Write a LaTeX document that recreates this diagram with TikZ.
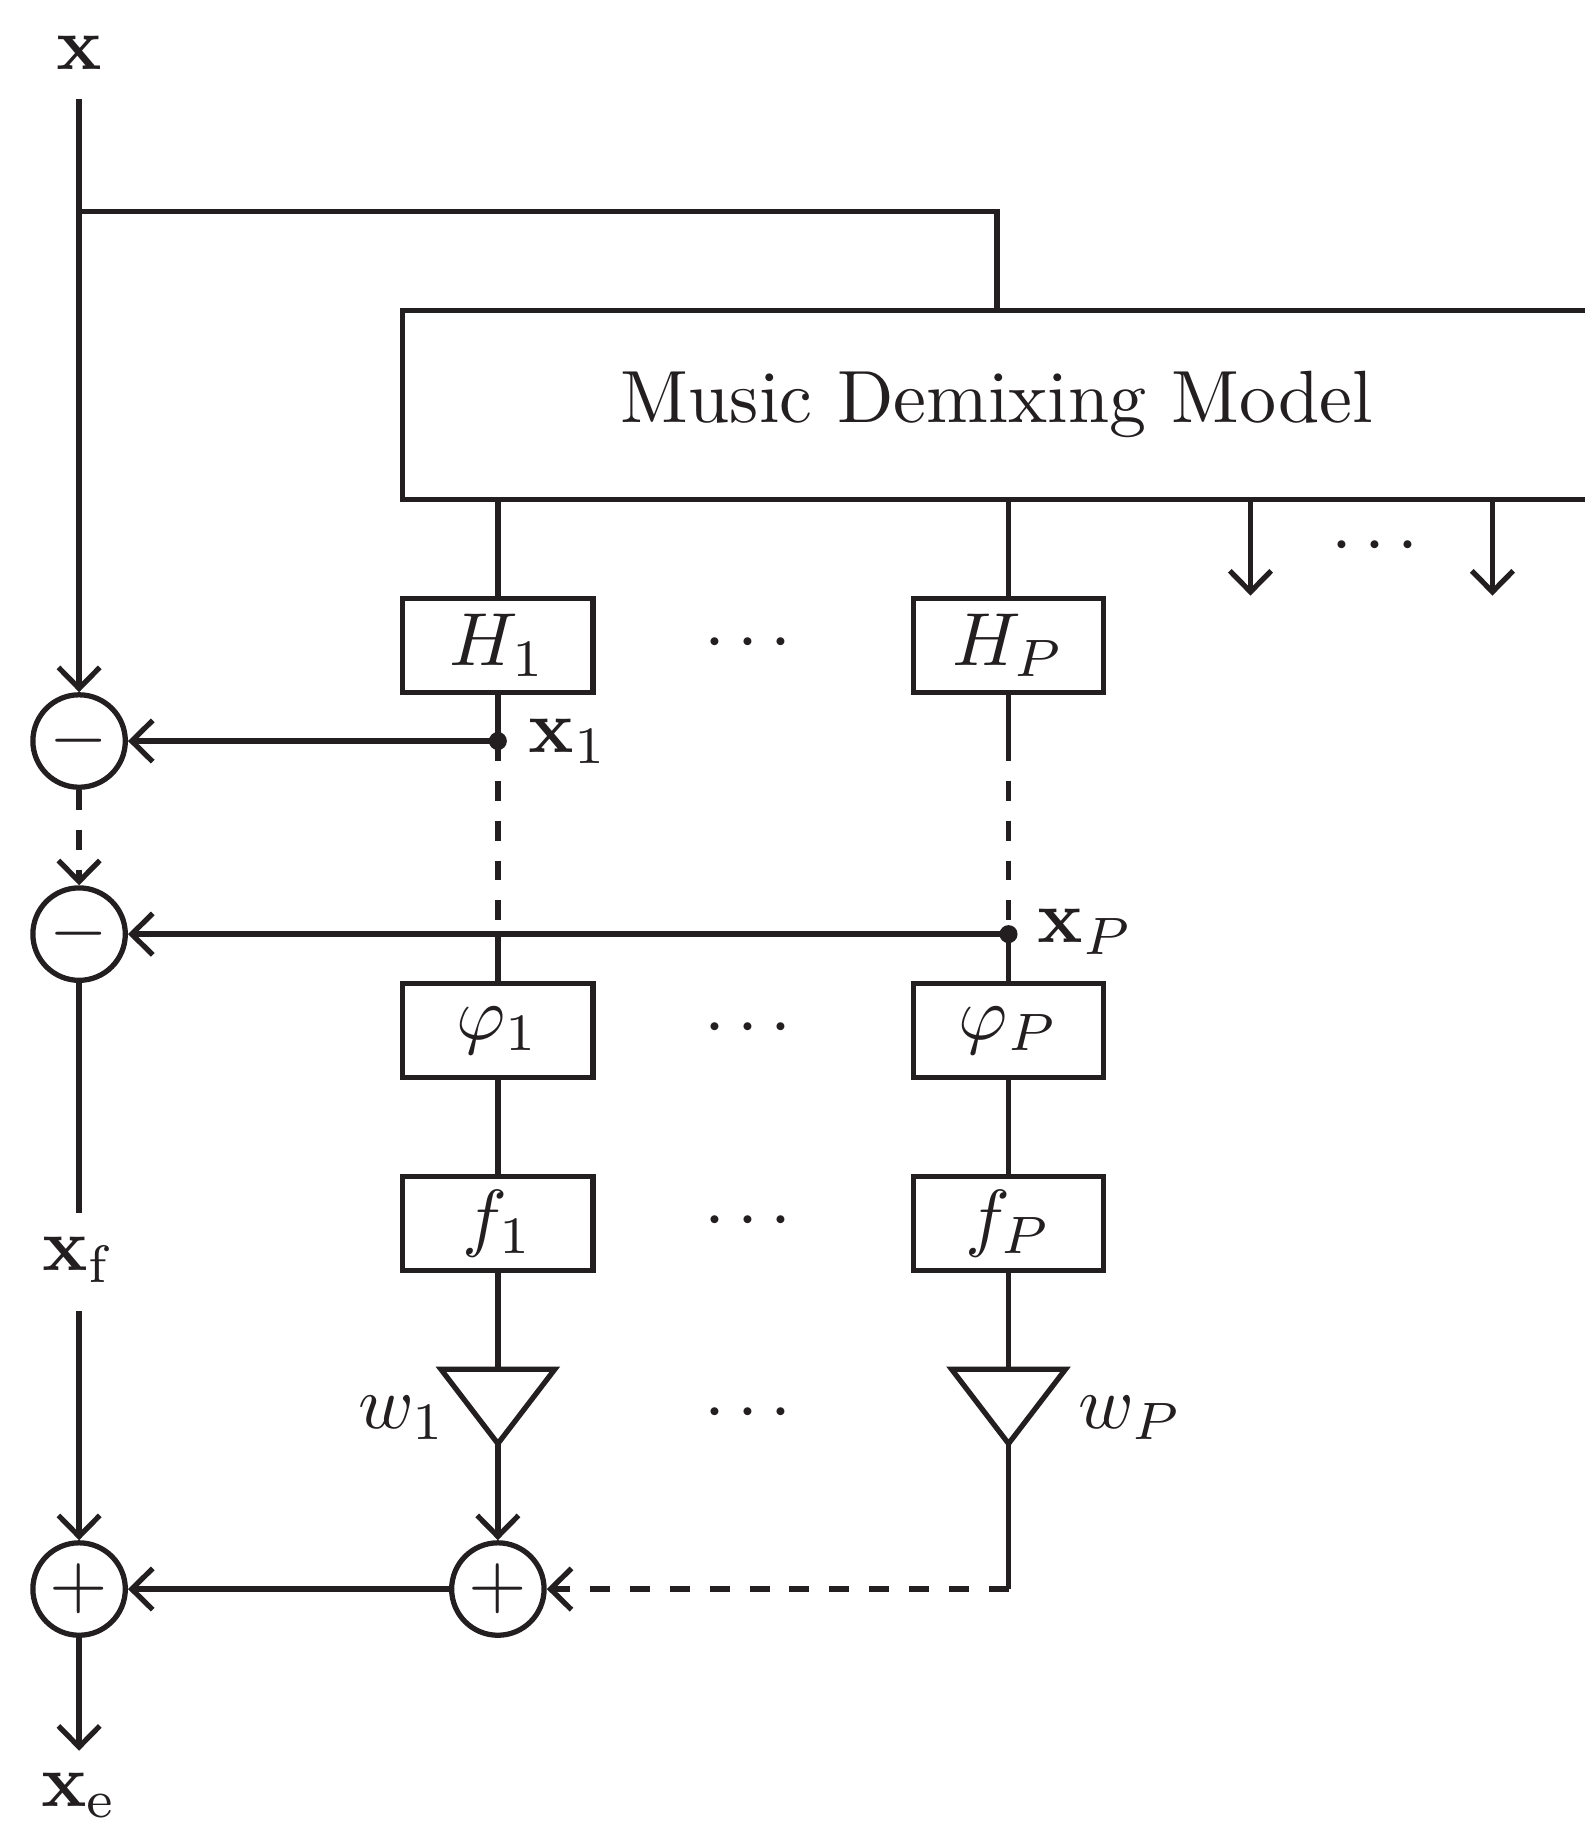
\documentclass[tikz,border=0pt]{standalone}
\usetikzlibrary{arrows.meta}
\definecolor{ink}{RGB}{35,31,32}
\begin{document}
\begin{tikzpicture}[x=0.15479pt,y=-0.15479pt,
  line width=0.7pt, draw=ink, text=ink,
  every node/.style={font=\fontsize{9.85pt}{12pt}\selectfont},
  arr/.style={-{Straight Barb[length=2.8pt,width=5.5pt]}},
  blk/.style={draw,minimum width=25.3pt,minimum height=12.5pt,inner sep=0pt},
  sumnode/.style={draw,circle,minimum size=12.3pt,inner sep=0pt},
  dsh/.style={dash pattern=on 2.65pt off 2.65pt},
  lbl/.style={inner sep=0pt},
  jdot/.style={circle,fill=ink,inner sep=0pt,minimum size=2.4pt}
]
\useasboundingbox (0,0) rectangle (1362,1568);

% input
\node[lbl] (x) at (68,45) {$\mathbf{x}$};
\coordinate (xtop) at (68,85);
\coordinate (split) at (68,182);

% model
\node[draw,minimum width=158.2pt,minimum height=25.1pt,inner sep=0pt] (mdm) at (857,348) {Music Demixing Model};

% H blocks
\node[blk] (H1) at (428,555) {$H_1$};
\node[blk] (HP) at (867,555) {$H_P$};
\node[lbl] (dotsH) at (643,553) {$\cdots$};

% other outputs
\coordinate (o1) at (1075,512);
\coordinate (o2) at (1283,512);
\node[lbl] (dotsO) at (1182,470) {$\cdots$};

% subtraction
\node[sumnode] (m1) at (68,637) {$-$};
\node[sumnode] (m2) at (68,803) {$-$};
\node[jdot] (d1) at (428,637) {};
\node[jdot] (dP) at (867,803) {};
\node[lbl,anchor=west] (lx1) at (452,637) {$\mathbf{x}_1$};
\node[lbl,anchor=west] (lxP) at (890,801) {$\mathbf{x}_P$};
\coordinate (dA) at (428,803);
\coordinate (bB) at (867,637);

% phi and f blocks
\node[blk] (phi1) at (428,886) {$\varphi_1$};
\node[blk] (phiP) at (867,886) {$\varphi_P$};
\node[lbl] (dotsphi) at (643,884) {$\cdots$};
\node[blk] (f1) at (428,1052) {$f_1$};
\node[blk] (fP) at (867,1052) {$f_P$};
\node[lbl] (dotsf) at (643,1050) {$\cdots$};

% gains
\coordinate (t1top) at (428,1177);
\coordinate (t1tip) at (428,1241);
\coordinate (tPtop) at (867,1177);
\coordinate (tPtip) at (867,1241);
\draw (428,1177) ++(-49,0) -- ++(98,0) -- (t1tip) -- cycle;
\draw (867,1177) ++(-49,0) -- ++(98,0) -- (tPtip) -- cycle;
\node[lbl,anchor=base east] (lw1) at (386,1228) {$w_1$};
\node[lbl,anchor=base west] (lwP) at (925,1228) {$w_P$};
\node[lbl] (dotsw) at (643,1215) {$\cdots$};

% sums
\node[sumnode] (p1) at (68,1366) {$+$};
\node[sumnode] (p2) at (428,1366) {$+$};
\coordinate (cB) at (867,1366);

% xf and xe
\node[lbl] (xf) at (68,1083) {$\mathbf{x}_\mathrm{f}$};
\coordinate (xfn) at (68,1043);
\coordinate (xfs) at (68,1127);
\coordinate (xeend) at (68,1505);
\node[lbl] (xe) at (68,1543) {$\mathbf{x}_\mathrm{e}$};

% connectors
\draw[arr] (xtop) -- (m1);
\draw (split) -| (mdm.north);
\draw (mdm.south -| H1) -- (H1);
\draw (mdm.south -| HP) -- (HP);
\draw[arr] (mdm.south -| o1) -- (o1);
\draw[arr] (mdm.south -| o2) -- (o2);

\draw (H1) -- (d1.center);
\draw[arr] (d1.center) -- (m1);
\draw[dsh] (d1.center) -- (dA);
\draw (dA) -- (phi1);
\draw (HP) -- (bB);
\draw[dsh] (bB) -- (dP.center);
\draw (dP.center) -- (phiP);
\draw[arr] (dP.center) -- (m2);
\draw[arr,dsh] (m1) -- (m2);

\draw (phi1) -- (f1);
\draw (phiP) -- (fP);
\draw (f1) -- (t1top);
\draw (fP) -- (tPtop);
\draw[arr] (t1tip) -- (p2);
\draw (tPtip) -- (cB);
\draw[arr,dsh] (cB) -- (p2);
\draw[arr] (p2) -- (p1);

\draw (m2) -- (xfn);
\draw[arr] (xfs) -- (p1);
\draw[arr] (p1) -- (xeend);
\end{tikzpicture}
\end{document}
